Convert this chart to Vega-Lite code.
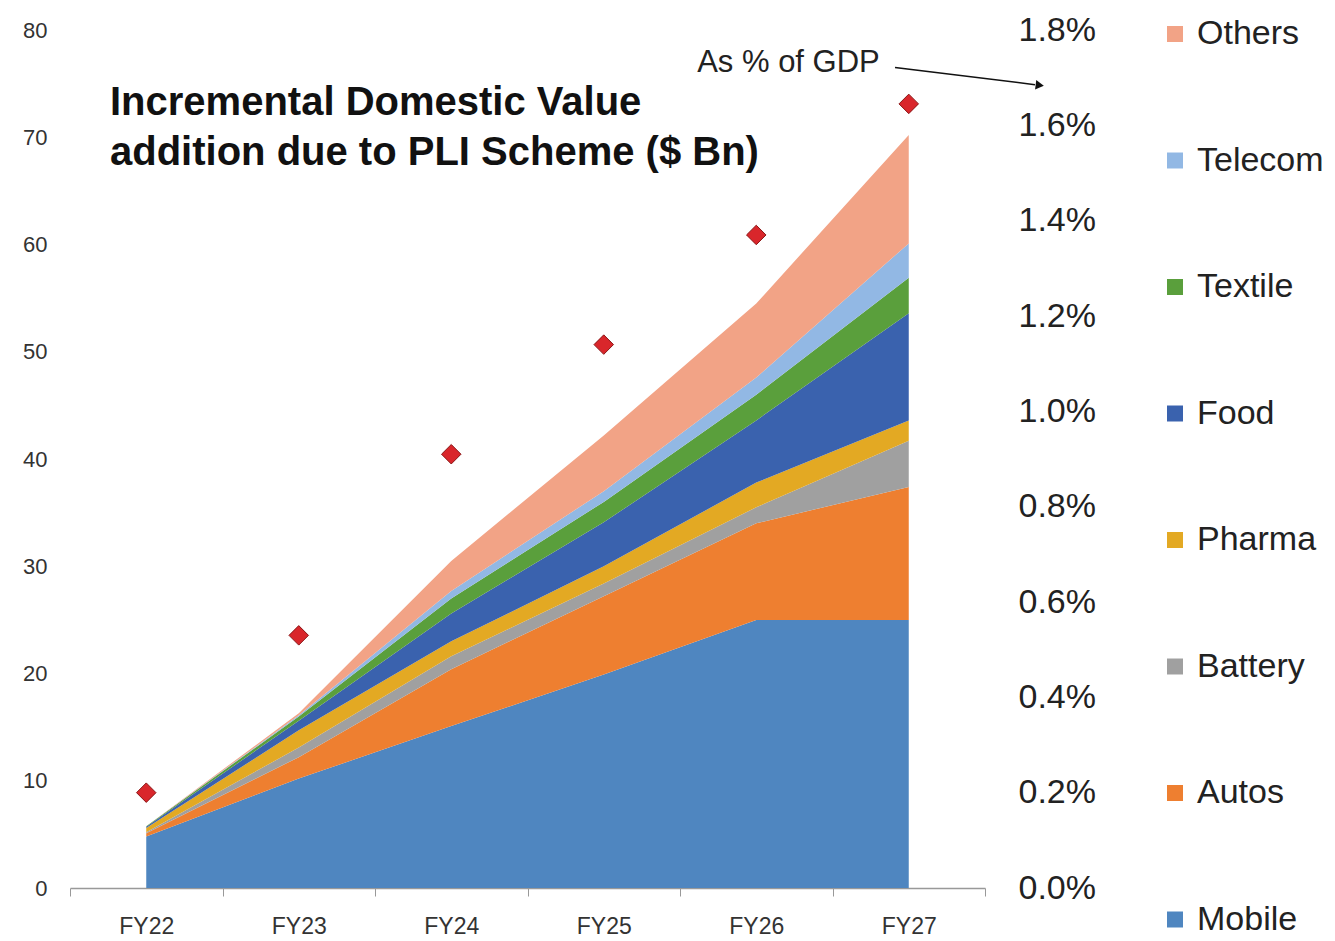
{
  "$schema": "https://vega.github.io/schema/vega-lite/v6.json",
  "autosize": {"type": "none"},
  "width": 915,
  "height": 858,
  "padding": {"left": 70, "top": 30, "right": 350, "bottom": 53},
  "background": "white",
  "config": {
    "view": {"stroke": null},
    "font": "Liberation Sans"
  },
  "title": {
    "text": ["Incremental Domestic Value", "addition due to PLI Scheme ($ Bn)"],
    "anchor": "start",
    "frame": "group",
    "orient": "top",
    "baseline": "top",
    "offset": 0,
    "dx": 40,
    "dy": 160,
    "fontSize": 40,
    "fontWeight": "bold",
    "lineHeight": 50,
    "color": "#111111",
    "font": "Liberation Sans"
  },
  "datasets": {
    "pli": [
      {"year": "FY22", "sector": "Mobile", "value": 4.8},
      {"year": "FY23", "sector": "Mobile", "value": 10.2},
      {"year": "FY24", "sector": "Mobile", "value": 15.1},
      {"year": "FY25", "sector": "Mobile", "value": 19.9},
      {"year": "FY26", "sector": "Mobile", "value": 25.0},
      {"year": "FY27", "sector": "Mobile", "value": 25.0},
      {"year": "FY22", "sector": "Autos", "value": 0.3},
      {"year": "FY23", "sector": "Autos", "value": 2.0},
      {"year": "FY24", "sector": "Autos", "value": 5.3},
      {"year": "FY25", "sector": "Autos", "value": 7.3},
      {"year": "FY26", "sector": "Autos", "value": 9.0},
      {"year": "FY27", "sector": "Autos", "value": 12.4},
      {"year": "FY22", "sector": "Battery", "value": 0.1},
      {"year": "FY23", "sector": "Battery", "value": 0.9},
      {"year": "FY24", "sector": "Battery", "value": 1.2},
      {"year": "FY25", "sector": "Battery", "value": 1.2},
      {"year": "FY26", "sector": "Battery", "value": 1.5},
      {"year": "FY27", "sector": "Battery", "value": 4.3},
      {"year": "FY22", "sector": "Pharma", "value": 0.4},
      {"year": "FY23", "sector": "Pharma", "value": 1.6},
      {"year": "FY24", "sector": "Pharma", "value": 1.4},
      {"year": "FY25", "sector": "Pharma", "value": 1.6},
      {"year": "FY26", "sector": "Pharma", "value": 2.3},
      {"year": "FY27", "sector": "Pharma", "value": 1.9},
      {"year": "FY22", "sector": "Food", "value": 0.1},
      {"year": "FY23", "sector": "Food", "value": 0.9},
      {"year": "FY24", "sector": "Food", "value": 2.6},
      {"year": "FY25", "sector": "Food", "value": 4.1},
      {"year": "FY26", "sector": "Food", "value": 5.8},
      {"year": "FY27", "sector": "Food", "value": 10.0},
      {"year": "FY22", "sector": "Textile", "value": 0.05},
      {"year": "FY23", "sector": "Textile", "value": 0.4},
      {"year": "FY24", "sector": "Textile", "value": 1.4},
      {"year": "FY25", "sector": "Textile", "value": 1.9},
      {"year": "FY26", "sector": "Textile", "value": 2.4},
      {"year": "FY27", "sector": "Textile", "value": 3.3},
      {"year": "FY22", "sector": "Telecom", "value": 0.0},
      {"year": "FY23", "sector": "Telecom", "value": 0.1},
      {"year": "FY24", "sector": "Telecom", "value": 0.7},
      {"year": "FY25", "sector": "Telecom", "value": 1.0},
      {"year": "FY26", "sector": "Telecom", "value": 1.6},
      {"year": "FY27", "sector": "Telecom", "value": 3.2},
      {"year": "FY22", "sector": "Others", "value": 0.0},
      {"year": "FY23", "sector": "Others", "value": 0.2},
      {"year": "FY24", "sector": "Others", "value": 2.8},
      {"year": "FY25", "sector": "Others", "value": 5.2},
      {"year": "FY26", "sector": "Others", "value": 6.9},
      {"year": "FY27", "sector": "Others", "value": 10.1}
    ],
    "sectors": [
      {"sector": "Mobile", "rank": 1},
      {"sector": "Autos", "rank": 2},
      {"sector": "Battery", "rank": 3},
      {"sector": "Pharma", "rank": 4},
      {"sector": "Food", "rank": 5},
      {"sector": "Textile", "rank": 6},
      {"sector": "Telecom", "rank": 7},
      {"sector": "Others", "rank": 8}
    ],
    "gdp": [
      {"year": "FY22", "share": 0.0020},
      {"year": "FY23", "share": 0.0053},
      {"year": "FY24", "share": 0.0091},
      {"year": "FY25", "share": 0.0114},
      {"year": "FY26", "share": 0.0137},
      {"year": "FY27", "share": 0.01645}
    ]
  },
  "layer": [
    {
      "layer": [
        {
          "data": {"name": "pli"},
          "transform": [
            {"lookup": "sector", "from": {"data": {"name": "sectors"}, "key": "sector", "fields": ["rank"]}}
          ],
          "mark": {"type": "area", "interpolate": "linear", "opacity": 1},
          "encoding": {
            "x": {
              "field": "year",
              "type": "ordinal",
              "bandPosition": 0.5,
              "scale": {"type": "band", "paddingInner": 0, "paddingOuter": 0},
              "axis": {
                "title": null,
                "labelAngle": 0,
                "labelFontSize": 23,
                "labelColor": "#333333",
                "labelPadding": 19,
                "tickBand": "extent",
                "tickSize": 8,
                "tickColor": "#999999",
                "domainColor": "#999999",
                "domainWidth": 1.5,
                "grid": false
              }
            },
            "y": {
              "field": "value",
              "type": "quantitative",
              "stack": "zero",
              "scale": {"domain": [0, 80], "nice": false},
              "axis": {
                "title": null,
                "values": [0, 10, 20, 30, 40, 50, 60, 70, 80],
                "grid": false,
                "domain": false,
                "ticks": false,
                "labelFontSize": 22,
                "labelColor": "#333333",
                "labelPadding": 23
              }
            },
            "color": {
              "field": "sector",
              "type": "nominal",
              "sort": ["Others", "Telecom", "Textile", "Food", "Pharma", "Battery", "Autos", "Mobile"],
              "scale": {
                "domain": ["Others", "Telecom", "Textile", "Food", "Pharma", "Battery", "Autos", "Mobile"],
                "range": ["#f2a386", "#92b8e4", "#5a9f3c", "#3a62ae", "#e3a923", "#a0a0a0", "#ee7f30", "#4f86c0"]
              },
              "legend": {
                "title": null,
                "orient": "none",
                "legendX": 1088,
                "legendY": -13,
                "symbolType": "square",
                "symbolSize": 256,
                "symbolStrokeWidth": 0,
                "labelFontSize": 34,
                "labelColor": "#222222",
                "labelOffset": 5,
                "rowPadding": 92.5,
                "labelFont": "Liberation Sans"
              }
            },
            "order": {"field": "rank", "type": "quantitative", "sort": "ascending"}
          }
        },
        {
          "data": {"values": [{}]},
          "mark": {"type": "text", "align": "right", "baseline": "middle", "fontSize": 31, "color": "#222222", "font": "Liberation Sans"},
          "encoding": {
            "x": {"datum": "FY27", "bandPosition": 0.31},
            "y": {"datum": 76.9},
            "text": {"value": "As % of GDP"}
          }
        },
        {
          "data": {"values": [{}]},
          "mark": {"type": "rule", "color": "#111111", "strokeWidth": 1.5, "x2Offset": 50},
          "encoding": {
            "x": {"datum": "FY27", "bandPosition": 0.41},
            "y": {"datum": 76.5},
            "x2": {"datum": "FY27", "bandPosition": 1},
            "y2": {"datum": 74.9}
          }
        },
        {
          "data": {"values": [{}]},
          "mark": {"type": "point", "shape": "triangle-right", "filled": true, "color": "#111111", "size": 90, "angle": 7, "opacity": 1, "xOffset": 131},
          "encoding": {
            "x": {"datum": "FY27", "bandPosition": 0.5},
            "y": {"datum": 74.85}
          }
        }
      ]
    },
    {
      "data": {"name": "gdp"},
      "mark": {"type": "point", "shape": "diamond", "filled": true, "size": 380, "color": "#d9262b", "stroke": "#8a1515", "strokeWidth": 1, "opacity": 1},
      "encoding": {
        "x": {"field": "year", "type": "ordinal", "bandPosition": 0.5},
        "y": {
          "field": "share",
          "type": "quantitative",
          "scale": {"domain": [0, 0.018], "nice": false},
          "axis": {
            "title": null,
            "orient": "right",
            "values": [0, 0.002, 0.004, 0.006, 0.008, 0.01, 0.012, 0.014, 0.016, 0.018],
            "format": ".1%",
            "grid": false,
            "domain": false,
            "ticks": false,
            "labelFontSize": 34,
            "labelColor": "#222222",
            "labelPadding": 33
          }
        }
      }
    }
  ],
  "resolve": {"scale": {"y": "independent", "color": "independent"}}
}
